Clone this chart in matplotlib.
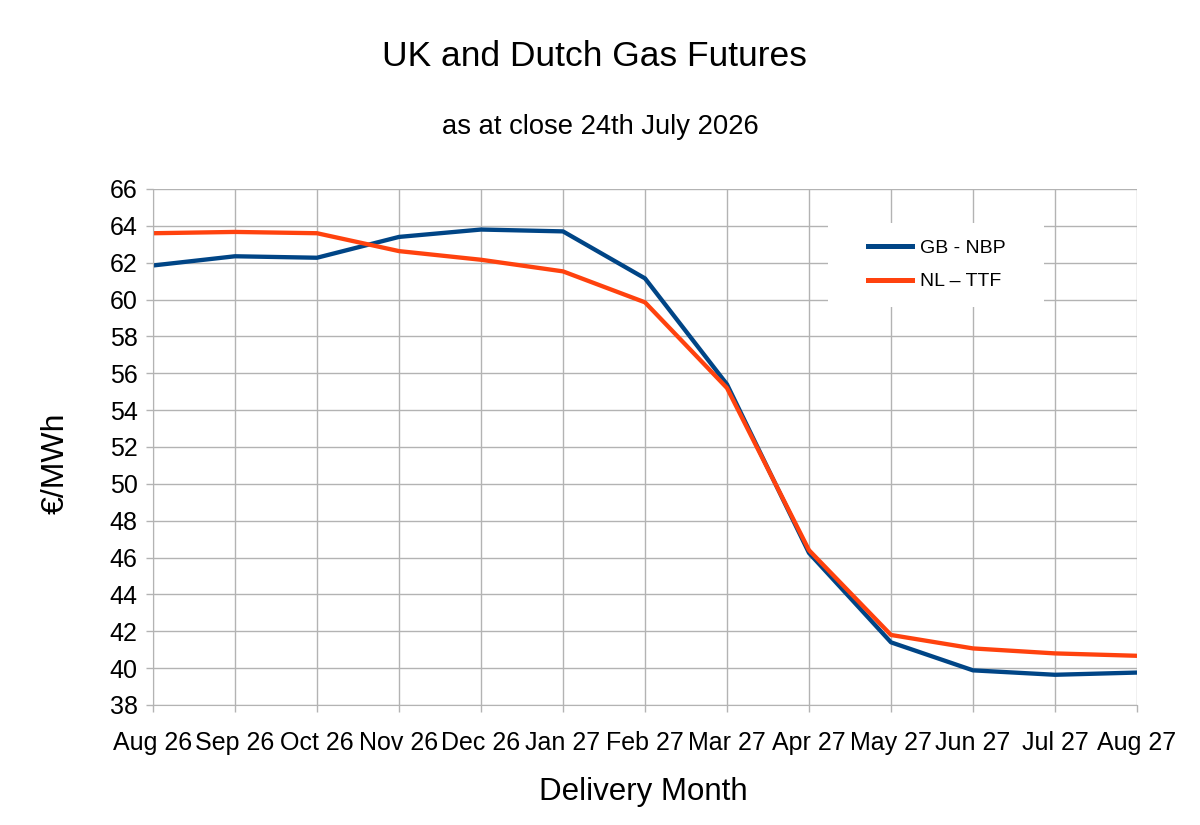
import matplotlib
matplotlib.use("Agg")
import matplotlib.pyplot as plt
from matplotlib.patches import Rectangle

plt.rcParams['font.family'] = ['Liberation Sans', 'DejaVu Sans']

months = ["Aug 26", "Sep 26", "Oct 26", "Nov 26", "Dec 26", "Jan 27", "Feb 27",
          "Mar 27", "Apr 27", "May 27", "Jun 27", "Jul 27", "Aug 27"]
nbp = [61.85, 62.35, 62.27, 63.4, 63.8, 63.7, 61.15, 55.4, 46.25, 41.4, 39.88, 39.64, 39.76]
ttf = [63.6, 63.67, 63.6, 62.63, 62.16, 61.53, 59.85, 55.2, 46.4, 41.8, 41.07, 40.8, 40.67]
yticks = list(range(38, 67, 2))

W, H = 1200, 825
fig = plt.figure(figsize=(12, 8.25), dpi=100)
ax = fig.add_axes([153/W, 1 - 705/H, (1137-153)/W, (705-189)/H])

x = list(range(len(months)))
ax.plot(x, nbp, color='#004586', lw=3.1, label='GB - NBP', solid_joinstyle='round')
ax.plot(x, ttf, color='#ff420e', lw=3.1, label='NL – TTF', solid_joinstyle='round')

ax.set_xlim(0, len(months) - 1)
ax.set_ylim(38, 66)
ax.set_xticks(x)
ax.set_xticklabels(months, fontsize=18)
ax.set_yticks(yticks)
ax.set_yticklabels([str(v) for v in yticks], fontsize=18)
ax.grid(True, color='#b3b3b3', lw=1)
ax.set_axisbelow(True)
for s in ax.spines.values():
    s.set_visible(False)
ax.spines['left'].set_visible(True)
ax.spines['bottom'].set_visible(True)
ax.spines['left'].set_color('#b3b3b3')
ax.spines['bottom'].set_color('#b3b3b3')
ax.tick_params(axis='both', color='#b3b3b3', length=5, width=1)
ax.tick_params(axis='y', pad=6)
ax.tick_params(axis='x', pad=14)

fig.text(56/W, 1 - 463/H, '€/MWh', rotation=90, ha='center', va='center', fontsize=23)
fig.text(643/W, 1 - 792/H, 'Delivery Month', ha='center', va='center', fontsize=22.5)

fig.text(594/W, 1 - 56/H, 'UK and Dutch Gas Futures', ha='center', va='center', fontsize=25.5)
fig.text(600/W, 1 - 127/H, 'as at close 24th July 2026', ha='center', va='center', fontsize=19.7)

# white legend background box (above grid, below lines/legend)
ax.add_patch(Rectangle((828/W, 1 - 307/H), (1044-828)/W, (307-223)/H,
                       transform=fig.transFigure, facecolor='white',
                       edgecolor='none', zorder=1, clip_on=False))

leg = ax.legend(loc='center left', bbox_to_anchor=((868-153)/984 - 0.0005, 1 - (265-189)/516),
                frameon=False, fontsize=14, handlelength=2.3, handletextpad=0.4,
                borderpad=0, labelspacing=0.8, borderaxespad=0)
for h in leg.get_lines():
    h.set_linewidth(3.6)

fig.savefig('out.png', dpi=100, facecolor='white')
